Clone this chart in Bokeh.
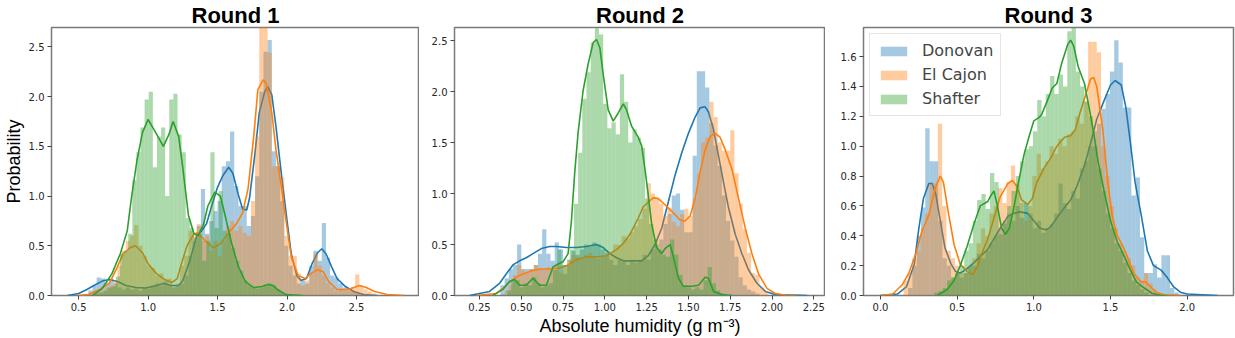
from bokeh.plotting import figure
from bokeh.models import Range1d, FixedTicker, NumeralTickFormatter, Legend, LegendItem
from bokeh.layouts import row
from bokeh.embed import file_html
from bokeh.resources import INLINE
import numpy as np

SERIES = ["Donovan", "El Cajon", "Shafter"]
COLORS = ["#1f77b4", "#ff7f0e", "#2ca02c"]
TITLES = ["Round 1", "Round 2", "Round 3"]

# ---------------- Round 1 ----------------
r1_hist_start = [0.57, 0.57, 0.5902]
r1_hist_width = [0.03, 0.03, 0.0296]
r1_don_hist = [0.05, 0.1, 0.18, 0.17, 0.13, 0.17, 0.12, 0.08, 0.06, 0.08, 0.06, 0.07, 0.05, 0.08, 0.07,
               0.1, 0.12, 0.1, 0.14, 0.1, 0.08, 0.1, 0.12, 0.2, 0.4, 0.55, 0.7, 1.07, 0.62, 0.75, 0.85,
               0.95, 1.3, 1.35, 1.65, 1.1, 0.9, 0.9, 0.7, 0.8, 1.2, 2.05, 2.45, 2.57, 1.45, 1.3, 0.95,
               0.5, 0.3, 0.2, 0.12, 0.15, 0.12, 0.3, 0.45, 0.35, 0.73, 0.38, 0.2, 0.18, 0.12, 0.08,
               0.05, 0.04, 0.03, 0.02]
r1_elc_hist = [0.02, 0.03, 0.04, 0.05, 0.08, 0.1, 0.15, 0.3, 0.45, 0.55, 0.6, 0.71, 0.5, 0.4, 0.3,
               0.28, 0.2, 0.22, 0.15, 0.17, 0.1, 0.12, 0.3, 0.4, 0.65, 0.6, 0.72, 0.55, 0.6, 0.45,
               0.55, 0.4, 0.55, 0.7, 0.75, 0.65, 0.7, 0.63, 0.6, 0.95, 1.6, 2.75, 2.75, 2.44, 1.3,
               1.3, 1.19, 0.6, 0.4, 0.4, 0.22, 0.1, 0.15, 0.22, 0.42, 0.3, 0.2, 0.12, 0.08, 0.05,
               0.06, 0.05, 0.06, 0.08, 0.21, 0.1, 0.06, 0.04, 0.02]
r1_sha_hist = [0.0, 0.02, 0.03, 0.05, 0.08, 0.09, 0.19, 0.42, 0.45, 0.62, 1.16, 1.44, 1.69, 1.97, 2.05,
               1.29, 1.6, 1.69, 1.0, 1.97, 2.03, 1.62, 1.44, 0.78, 0.68, 0.58, 0.62, 0.35, 0.55, 1.44,
               0.68, 1.05, 0.65, 0.62, 0.48, 0.35, 0.25, 0.15, 0.1, 0.08, 0.07, 0.08, 0.1, 0.12, 0.1,
               0.06, 0.03, 0.02, 0.01]
r1_don_kde_x = [0.42, 0.5, 0.56, 0.61, 0.67, 0.72, 0.78, 0.84, 0.91, 0.98, 1.05, 1.11, 1.17, 1.22, 1.25,
                1.3, 1.35, 1.385, 1.42, 1.46, 1.5, 1.54, 1.58, 1.61, 1.65, 1.68, 1.71, 1.73, 1.77, 1.8,
                1.84, 1.86, 1.89, 1.92, 1.96, 2.0, 2.03, 2.07, 2.1, 2.14, 2.18, 2.22, 2.25, 2.28, 2.32,
                2.36, 2.42, 2.48, 2.55, 2.65]
r1_don_kde_y = [0, 0.02, 0.06, 0.1, 0.145, 0.16, 0.14, 0.1, 0.08, 0.076, 0.095, 0.12, 0.1, 0.1, 0.15,
                0.35, 0.6, 0.65, 0.72, 0.91, 1.09, 1.21, 1.29, 1.23, 1.01, 0.87, 0.86, 0.98, 1.44, 1.84,
                2.05, 2.1, 2.02, 1.7, 1.21, 0.75, 0.42, 0.2, 0.15, 0.17, 0.32, 0.43, 0.47, 0.42, 0.29,
                0.17, 0.09, 0.04, 0.01, 0.0]
r1_elc_kde_x = [0.49, 0.57, 0.65, 0.72, 0.78, 0.82, 0.87, 0.91, 0.96, 1.0, 1.06, 1.12, 1.17, 1.21, 1.24,
                1.28, 1.33, 1.36, 1.41, 1.47, 1.52, 1.58, 1.64, 1.68, 1.72, 1.76, 1.79, 1.83, 1.85, 1.89,
                1.92, 1.96, 2.0, 2.03, 2.08, 2.13, 2.17, 2.22, 2.26, 2.3, 2.36, 2.44, 2.52, 2.57, 2.63,
                2.72, 2.84]
r1_elc_kde_y = [0, 0.01, 0.06, 0.12, 0.29, 0.42, 0.48, 0.5, 0.43, 0.32, 0.22, 0.16, 0.13, 0.17, 0.32,
                0.5, 0.62, 0.63, 0.55, 0.48, 0.52, 0.63, 0.73, 0.83, 1.08, 1.6, 2.07, 2.17, 2.13, 1.84,
                1.47, 1.08, 0.68, 0.39, 0.2, 0.17, 0.22, 0.26, 0.24, 0.14, 0.06, 0.06, 0.1, 0.08, 0.04,
                0.01, 0.0]
r1_sha_kde_x = [0.6, 0.67, 0.74, 0.8, 0.85, 0.88, 0.92, 0.96, 1.0, 1.05, 1.11, 1.15, 1.18, 1.22, 1.25,
                1.29, 1.33, 1.36, 1.4, 1.43, 1.48, 1.52, 1.55, 1.6, 1.65, 1.7, 1.76, 1.82, 1.86, 1.9,
                1.93, 1.99, 2.11]
r1_sha_kde_y = [0, 0.07, 0.22, 0.42, 0.65, 0.98, 1.36, 1.64, 1.77, 1.65, 1.5, 1.62, 1.75, 1.6, 1.28,
                0.81, 0.62, 0.6, 0.72, 0.9, 1.04, 1.0, 0.83, 0.53, 0.29, 0.14, 0.08, 0.09, 0.11, 0.1,
                0.06, 0.01, 0.0]
r1_xticks = [0.5, 1.0, 1.5, 2.0, 2.5]
r1_yticks = [0.0, 0.5, 1.0, 1.5, 2.0, 2.5]

# ---------------- Round 2 ----------------
r2_hist_start = [0.375, 0.40, 0.415]
r2_hist_width = [0.025, 0.025, 0.025]
r2_don_hist = [0.1, 0.17, 0.26, 0.3, 0.5, 0.26, 0.26, 0.26, 0.3, 0.41, 0.65, 0.41, 0.34, 0.52, 0.45,
               0.21, 0.35, 0.44, 0.4, 0.45, 0.5, 0.48, 0.52, 0.5, 0.45, 0.42, 0.35, 0.3, 0.35, 0.33,
               0.3, 0.35, 0.32, 0.35, 0.4, 0.35, 0.45, 0.5, 0.55, 0.7, 0.8, 0.98, 1.0, 0.84, 0.62,
               0.62, 1.37, 2.2, 2.2, 2.04, 1.69, 1.47, 1.27, 0.98, 0.73, 0.54, 0.38, 0.18, 0.1, 0.06,
               0.04, 0.02]
r2_elc_hist = [0.05, 0.1, 0.2, 0.3, 0.25, 0.22, 0.26, 0.3, 0.26, 0.25, 0.28, 0.25, 0.3, 0.22, 0.3,
               0.35, 0.4, 0.38, 0.36, 0.4, 0.42, 0.38, 0.36, 0.38, 0.4, 0.42, 0.5, 0.5, 0.58, 0.56,
               0.62, 0.68, 0.75, 0.85, 1.1, 1.0, 0.95, 0.9, 0.78, 0.86, 0.72, 0.68, 0.8, 0.85, 0.78,
               0.95, 1.2, 1.5, 1.55, 1.9, 1.75, 1.5, 1.42, 1.42, 1.62, 1.2, 0.9, 0.65, 0.42, 0.22,
               0.2, 0.08, 0.04]
r2_sha_hist = [0.05, 0.15, 0.15, 0.08, 0.12, 0.1, 0.18, 0.12, 0.08, 0.1, 0.12, 0.25, 0.45, 0.3, 0.3,
               0.45, 0.9, 1.4, 1.93, 2.19, 2.48, 2.62, 2.56, 1.88, 1.64, 1.7, 1.58, 2.17, 1.9, 1.5,
               1.63, 1.55, 1.45, 0.95, 0.7, 0.55, 0.45, 0.4, 0.38, 0.55, 0.4, 0.2, 0.1, 0.08, 0.06,
               0.08, 0.06, 0.15, 0.28, 0.12, 0.05, 0.02]
r2_don_kde_x = [0.19, 0.31, 0.37, 0.41, 0.45, 0.49, 0.53, 0.57, 0.62, 0.67, 0.71, 0.77, 0.83, 0.89, 0.95,
                0.99, 1.03, 1.07, 1.11, 1.17, 1.22, 1.26, 1.3, 1.34, 1.38, 1.42, 1.46, 1.5, 1.54, 1.57,
                1.6, 1.62, 1.65, 1.68, 1.71, 1.74, 1.78, 1.82, 1.86, 1.91, 1.96, 2.02, 2.21]
r2_don_kde_y = [0, 0.04, 0.12, 0.21, 0.3, 0.34, 0.37, 0.41, 0.46, 0.48, 0.48, 0.47, 0.47, 0.48, 0.5,
                0.47, 0.41, 0.37, 0.34, 0.34, 0.34, 0.39, 0.5, 0.66, 0.92, 1.18, 1.4, 1.59, 1.75, 1.84,
                1.85, 1.8, 1.63, 1.37, 1.11, 0.86, 0.6, 0.41, 0.25, 0.12, 0.04, 0.01, 0.0]
r2_elc_kde_x = [0.23, 0.35, 0.39, 0.43, 0.47, 0.51, 0.56, 0.61, 0.67, 0.73, 0.78, 0.83, 0.89, 0.95, 1.01,
                1.07, 1.11, 1.15, 1.2, 1.23, 1.25, 1.29, 1.32, 1.36, 1.41, 1.45, 1.48, 1.51, 1.54, 1.57,
                1.6, 1.63, 1.66, 1.69, 1.72, 1.76, 1.8, 1.84, 1.88, 1.92, 1.97, 2.02, 2.08, 2.15]
r2_elc_kde_y = [0, 0.02, 0.07, 0.13, 0.18, 0.21, 0.24, 0.26, 0.26, 0.27, 0.3, 0.35, 0.38, 0.38, 0.39,
                0.45, 0.51, 0.6, 0.76, 0.87, 0.9, 0.96, 0.95, 0.89, 0.81, 0.74, 0.73, 0.78, 0.95, 1.21,
                1.43, 1.56, 1.59, 1.55, 1.43, 1.24, 0.95, 0.66, 0.41, 0.21, 0.07, 0.02, 0.005, 0.0]
r2_sha_kde_x = [0.33, 0.39, 0.43, 0.46, 0.49, 0.53, 0.57, 0.61, 0.65, 0.69, 0.72, 0.75, 0.78, 0.8, 0.82,
                0.84, 0.87, 0.9, 0.93, 0.95, 0.97, 0.99, 1.02, 1.05, 1.08, 1.11, 1.13, 1.16, 1.2, 1.22,
                1.24, 1.26, 1.28, 1.31, 1.34, 1.36, 1.39, 1.41, 1.44, 1.47, 1.52, 1.56, 1.6, 1.62, 1.65,
                1.7, 1.76]
r2_sha_kde_y = [0, 0.06, 0.14, 0.157, 0.1, 0.1, 0.17, 0.1, 0.1, 0.28, 0.31, 0.33, 0.41, 0.73, 1.21,
                1.6, 2.01, 2.27, 2.48, 2.51, 2.43, 2.17, 1.82, 1.71, 1.79, 1.88, 1.82, 1.66, 1.55, 1.47,
                1.24, 0.98, 0.7, 0.47, 0.41, 0.46, 0.5, 0.38, 0.17, 0.09, 0.09, 0.1, 0.18, 0.17, 0.04,
                0.01, 0.0]
r2_xticks = [0.25, 0.5, 0.75, 1.0, 1.25, 1.5, 1.75, 2.0, 2.25]
r2_yticks = [0.0, 0.5, 1.0, 1.5, 2.0, 2.5]

# ---------------- Round 3 ----------------
r3_hist_start = [0.18, 0.15, 0.35]
r3_hist_width = [0.028, 0.028, 0.028]
r3_don_hist = [0.05, 0.2, 0.4, 0.59, 1.12, 0.9, 0.9, 0.5, 0.25, 0.2, 0.12, 0.15, 0.12, 0.15, 0.2,
               0.2, 0.28, 0.25, 0.3, 0.35, 0.4, 0.45, 0.48, 0.55, 0.5, 0.6, 0.52, 0.62, 0.55, 0.45,
               0.5, 0.42, 0.45, 0.48, 0.55, 0.75, 0.62, 0.58, 0.7, 0.65, 0.85, 0.9, 1.0, 1.1, 1.15,
               1.25, 1.35, 1.5, 1.71, 1.56, 1.26, 1.26, 0.67, 0.79, 0.39, 0.15, 0.15, 0.21, 0.12,
               0.27, 0.27, 0.05, 0.02]
r3_elc_hist = [0.1, 0.15, 0.25, 0.3, 0.45, 0.55, 0.75, 0.75, 1.15, 0.6, 0.3, 0.25, 0.2, 0.15, 0.15,
               0.2, 0.25, 0.35, 0.45, 0.4, 0.55, 0.6, 0.72, 0.62, 0.76, 0.87, 0.75, 0.62, 0.5, 0.6,
               0.8, 0.95, 0.85, 0.9, 1.0, 0.95, 1.05, 1.0, 1.08, 1.1, 1.2, 1.15, 1.3, 1.7, 1.7, 1.63,
               1.0, 0.8, 0.6, 0.45, 0.35, 0.3, 0.25, 0.2, 0.12, 0.1, 0.15, 0.08, 0.04]
r3_sha_hist = [0.02, 0.03, 0.05, 0.1, 0.12, 0.15, 0.2, 0.3, 0.35, 0.5, 0.64, 0.68, 0.58, 0.82, 0.76,
               0.41, 0.5, 0.6, 0.7, 0.8, 0.9, 0.98, 1.0, 1.1, 1.31, 1.2, 1.35, 1.47, 1.35, 1.48, 1.4,
               1.77, 1.8, 1.5, 1.4, 1.3, 1.2, 1.0, 0.85, 0.7, 0.55, 0.45, 0.35, 0.3, 0.22, 0.15, 0.1,
               0.07, 0.04, 0.02]
r3_don_kde_x = [0, 0.11, 0.17, 0.22, 0.25, 0.28, 0.315, 0.337, 0.36, 0.39, 0.42, 0.46, 0.49, 0.52, 0.565,
                0.61, 0.65, 0.7, 0.74, 0.78, 0.83, 0.87, 0.91, 0.96, 1.0, 1.04, 1.08, 1.11, 1.15, 1.2,
                1.24, 1.28, 1.33, 1.37, 1.41, 1.46, 1.5, 1.53, 1.57, 1.6, 1.63, 1.66, 1.7, 1.74, 1.78,
                1.83, 1.87, 1.91, 1.96, 2.0, 2.2]
r3_don_kde_y = [0, 0.01, 0.06, 0.21, 0.45, 0.65, 0.75, 0.75, 0.68, 0.5, 0.32, 0.21, 0.16, 0.15, 0.18,
                0.22, 0.26, 0.31, 0.38, 0.45, 0.53, 0.55, 0.56, 0.55, 0.5, 0.45, 0.44, 0.46, 0.52, 0.59,
                0.64, 0.73, 0.87, 1.02, 1.18, 1.31, 1.41, 1.44, 1.41, 1.26, 1.02, 0.76, 0.54, 0.3, 0.2,
                0.17, 0.12, 0.06, 0.02, 0.01, 0.0]
r3_elc_kde_x = [0, 0.08, 0.14, 0.185, 0.23, 0.27, 0.315, 0.36, 0.39, 0.41, 0.445, 0.48, 0.52, 0.565, 0.6,
                0.63, 0.66, 0.7, 0.74, 0.78, 0.83, 0.86, 0.89, 0.92, 0.96, 0.99, 1.02, 1.07, 1.11, 1.15,
                1.2, 1.24, 1.27, 1.3, 1.34, 1.37, 1.39, 1.41, 1.45, 1.48, 1.51, 1.54, 1.58, 1.61, 1.65,
                1.7, 1.73, 1.76, 1.8, 1.85, 1.96]
r3_elc_kde_y = [0, 0.01, 0.07, 0.15, 0.28, 0.43, 0.54, 0.73, 0.8, 0.76, 0.54, 0.34, 0.21, 0.16, 0.14,
                0.19, 0.28, 0.38, 0.52, 0.66, 0.75, 0.77, 0.73, 0.64, 0.61, 0.65, 0.76, 0.86, 0.92, 1.0,
                1.06, 1.07, 1.11, 1.22, 1.35, 1.45, 1.46, 1.4, 1.11, 0.78, 0.54, 0.41, 0.33, 0.26, 0.15,
                0.09, 0.09, 0.06, 0.02, 0.005, 0.0]
r3_sha_kde_x = [0.37, 0.435, 0.48, 0.52, 0.565, 0.61, 0.65, 0.7, 0.72, 0.74, 0.76, 0.79, 0.815, 0.84, 0.87,
                0.9, 0.935, 0.97, 1.0, 1.03, 1.05, 1.09, 1.12, 1.15, 1.18, 1.22, 1.24, 1.26, 1.29, 1.33,
                1.36, 1.39, 1.42, 1.46, 1.5, 1.54, 1.59, 1.63, 1.67, 1.72, 1.77, 1.83, 1.87]
r3_sha_kde_y = [0, 0.04, 0.1, 0.2, 0.33, 0.48, 0.6, 0.63, 0.67, 0.7, 0.61, 0.45, 0.41, 0.45, 0.59,
                0.76, 0.94, 1.07, 1.17, 1.19, 1.21, 1.31, 1.39, 1.42, 1.55, 1.68, 1.71, 1.67, 1.53, 1.42,
                1.26, 1.09, 0.89, 0.69, 0.5, 0.37, 0.26, 0.17, 0.09, 0.05, 0.015, 0.0, 0.0]
r3_xticks = [0.0, 0.5, 1.0, 1.5, 2.0]
r3_yticks = [0.0, 0.2, 0.4, 0.6, 0.8, 1.0, 1.2, 1.4, 1.6]

ROUNDS = [
    dict(starts=r1_hist_start, widths=r1_hist_width, hists=[r1_don_hist, r1_elc_hist, r1_sha_hist],
         kx=[r1_don_kde_x, r1_elc_kde_x, r1_sha_kde_x], ky=[r1_don_kde_y, r1_elc_kde_y, r1_sha_kde_y],
         xt=r1_xticks, yt=r1_yticks, xr=(0.305, 2.953), yr=(0, 2.695), xf="0.0", yf="0.0"),
    dict(starts=r2_hist_start, widths=r2_hist_width, hists=[r2_don_hist, r2_elc_hist, r2_sha_hist],
         kx=[r2_don_kde_x, r2_elc_kde_x, r2_sha_kde_x], ky=[r2_don_kde_y, r2_elc_kde_y, r2_sha_kde_y],
         xt=r2_xticks, yt=r2_yticks, xr=(0.1005, 2.32), yr=(0, 2.628), xf="0.00", yf="0.0"),
    dict(starts=r3_hist_start, widths=r3_hist_width, hists=[r3_don_hist, r3_elc_hist, r3_sha_hist],
         kx=[r3_don_kde_x, r3_elc_kde_x, r3_sha_kde_x], ky=[r3_don_kde_y, r3_elc_kde_y, r3_sha_kde_y],
         xt=r3_xticks, yt=r3_yticks, xr=(-0.111, 2.302), yr=(0, 1.795), xf="0.0", yf="0.0"),
]

LAYOUT = [  # width, border_left, border_right
    (419, 49, 0),
    (406, 35, 0),
    (410, 38, 2),
]

figs = []
for i, rd in enumerate(ROUNDS):
    w, bl, br = LAYOUT[i]
    p = figure(width=w, height=338, output_backend="svg", toolbar_location=None,
               x_range=Range1d(*rd["xr"]), y_range=Range1d(*rd["yr"]),
               min_border_left=bl, min_border_right=br, min_border_bottom=42, min_border_top=0)
    p.title.text = TITLES[i]
    p.title.align = "center"
    p.title.text_font = "Liberation Sans"
    p.title.text_font_size = "22px"
    p.title.text_font_style = "bold"
    p.title.text_color = "black"
    p.title.text_line_height = 0.95
    p.title.standoff = 0
    p.xgrid.visible = False
    p.ygrid.visible = False
    p.outline_line_color = "#7a7a7a"
    p.outline_line_width = 1.5
    p.background_fill_color = "white"
    p.border_fill_color = "white"

    quads = []
    for s in range(3):
        h = np.array(rd["hists"][s])
        left = rd["starts"][s] + rd["widths"][s] * np.arange(len(h))
        q = p.quad(left=left, right=left + rd["widths"][s], bottom=0, top=h,
                   fill_color=COLORS[s], fill_alpha=0.4, line_color=None)
        quads.append(q)
        p.line(rd["kx"][s], rd["ky"][s], line_color=COLORS[s], line_width=1.6)

    for ax, ticks, fmt in ((p.xaxis[0], rd["xt"], rd["xf"]), (p.yaxis[0], rd["yt"], rd["yf"])):
        ax.ticker = FixedTicker(ticks=ticks)
        ax.formatter = NumeralTickFormatter(format=fmt)
        ax.axis_line_color = None
        ax.major_tick_line_color = "#444444"
        ax.major_tick_out = 4
        ax.major_tick_in = 0
        ax.minor_tick_line_color = None
        ax.major_label_text_font = "DejaVu Sans"
        ax.major_label_text_font_size = "10px"
        ax.major_label_text_color = "#262626"
        ax.major_label_standoff = 3
        ax.axis_label_text_font = "Liberation Sans"
        ax.axis_label_text_font_size = "18px"
        ax.axis_label_text_font_style = "normal"
        ax.axis_label_text_color = "black"
        ax.axis_label_standoff = 2

    if i == 0:
        p.yaxis[0].axis_label = "Probability"
    if i == 1:
        p.xaxis[0].axis_label = "Absolute humidity (g m\u207b\u00b3)"
    if i == 2:
        legend = Legend(items=[LegendItem(label=SERIES[s], renderers=[quads[s]]) for s in range(3)],
                        location="top_left")
        legend.label_text_font = "DejaVu Sans"
        legend.label_text_font_size = "16px"
        legend.glyph_width = 33
        legend.glyph_height = 12
        legend.label_standoff = 12
        legend.spacing = 5
        legend.padding = 7
        legend.margin = 6
        legend.border_line_color = "#cccccc"
        legend.border_line_width = 1
        legend.background_fill_alpha = 0.85
        p.add_layout(legend)
    figs.append(p)

layout = row(*figs, spacing=0)
open("out.html", "w").write(file_html(layout, INLINE))
